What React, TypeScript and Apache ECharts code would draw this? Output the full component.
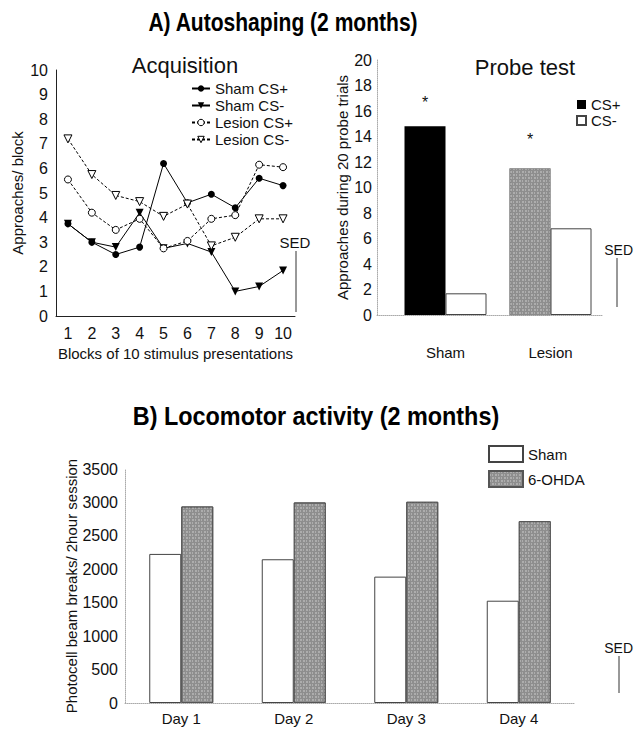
import React, { useEffect, useRef } from 'react';
import * as echarts from 'echarts';

// ---- Data ----
const blocks = ['1', '2', '3', '4', '5', '6', '7', '8', '9', '10'];
const shamCSPlus = [3.75, 3.0, 2.5, 2.8, 6.2, 4.6, 4.95, 4.4, 5.6, 5.3];
const shamCSMinus = [3.75, 3.0, 2.8, 4.2, 2.75, 2.95, 2.6, 1.0, 1.2, 1.85];
const lesionCSPlus = [5.55, 4.2, 3.5, 3.95, 2.75, 3.05, 3.95, 4.1, 6.15, 6.05];
const lesionCSMinus = [7.2, 5.75, 4.9, 4.65, 4.05, 4.55, 2.85, 3.2, 3.95, 3.95];

const probeGroups = ['Sham', 'Lesion'];
const probeCSPlus = [14.8, 11.5];
const probeCSMinus = [1.7, 6.8];

const days = ['Day 1', 'Day 2', 'Day 3', 'Day 4'];
const locoSham = [2230, 2150, 1890, 1530];
const locoOHDA = [2940, 3000, 3010, 2720];

const FONT = '"Liberation Sans", Arial, sans-serif';

export default function App() {
  const ref = useRef<HTMLDivElement>(null);
  useEffect(() => {
    const chart = echarts.init(ref.current!, null, { renderer: 'svg' });
    const gray = '#8e8e8e';
    const decal = {
      symbol: 'rect',
      symbolSize: 0.9,
      color: 'rgba(255,255,255,0.3)',
      dashArrayX: [[2, 1, 1, 2], [1, 2, 2, 1]],
      dashArrayY: [2, 1],
      rotation: 0,
    };
    const txt = { fontFamily: FONT, fontSize: 15, color: '#111' };
    const tick = { fontFamily: FONT, fontSize: 16, color: '#111' };
    const faintAxis = { show: true, lineStyle: { color: '#aaa', type: 'dotted', width: 1 } };

    const option: any = {
      animation: false,
      backgroundColor: '#fff',
      textStyle: { fontFamily: FONT },
      grid: [
        { left: 56, top: 70, width: 239, height: 246 },
        { left: 377, top: 60, width: 226, height: 255 },
        { left: 393, top: 60, width: 210, height: 255 },
        { left: 125, top: 469, width: 450, height: 234 },
      ],
      xAxis: [
        {
          gridIndex: 0, type: 'category', data: blocks, boundaryGap: true,
          axisLine: { show: true, lineStyle: { color: '#222', width: 1 } },
          axisTick: { show: false },
          axisLabel: { ...tick, margin: 9 },
          name: 'Blocks of 10 stimulus presentations', nameLocation: 'middle', nameGap: 30,
          nameTextStyle: { ...txt },
        },
        {
          gridIndex: 1, type: 'value', min: 0, max: 1,
          axisLine: faintAxis, axisTick: { show: false }, axisLabel: { show: false },
          splitLine: { show: false },
        },
        {
          gridIndex: 2, type: 'category', data: probeGroups,
          axisLine: { show: false }, axisTick: { show: false },
          axisLabel: { ...txt, margin: 30 },
        },
        {
          gridIndex: 3, type: 'category', data: days,
          axisLine: faintAxis, axisTick: { show: false },
          axisLabel: { ...txt, margin: 8 },
        },
      ],
      yAxis: [
        {
          gridIndex: 0, type: 'value', min: 0, max: 10, interval: 1,
          axisLine: { show: true, lineStyle: { color: '#222', width: 1 } },
          axisTick: { show: false }, splitLine: { show: false },
          axisLabel: { ...tick, margin: 8 },
          name: 'Approaches/ block', nameLocation: 'middle', nameGap: 31,
          nameTextStyle: { ...txt },
        },
        {
          gridIndex: 1, type: 'value', min: 0, max: 20, interval: 2,
          axisLine: faintAxis, axisTick: { show: false }, splitLine: { show: false },
          axisLabel: { ...tick, margin: 5 },
          name: 'Approaches during 20 probe trials', nameLocation: 'middle', nameGap: 26,
          nameTextStyle: { ...txt },
        },
        { gridIndex: 2, type: 'value', min: 0, max: 20, show: false },
        {
          gridIndex: 3, type: 'value', min: 0, max: 3500, interval: 500,
          axisLine: faintAxis, axisTick: { show: false }, splitLine: { show: false },
          axisLabel: { ...tick, margin: 7, formatter: (v: number) => String(v) },
          name: 'Photocell beam breaks/ 2hour session', nameLocation: 'middle', nameGap: 46,
          nameMoveOverlap: false,
          nameTextStyle: { ...txt },
        },
      ],
      legend: [
        {
          data: ['Sham CS+', 'Sham CS-', 'Lesion CS+', 'Lesion CS-'],
          orient: 'vertical', left: 186, top: 76, itemWidth: 18, itemHeight: 8, itemGap: 2,
          textStyle: { ...txt }, itemStyle: { borderWidth: 1 },
        },
        {
          data: ['CS+', 'CS-'], icon: 'rect',
          orient: 'vertical', left: 571, top: 92, itemWidth: 9, itemHeight: 9, itemGap: 1,
          textStyle: { ...txt },
        },
        {
          data: ['Sham', '6-OHDA'], icon: 'rect',
          orient: 'vertical', left: 483, top: 440, itemWidth: 34, itemHeight: 16, itemGap: 7,
          textStyle: { ...txt },
        },
      ],
      series: [
        {
          name: 'Sham CS+', type: 'line', xAxisIndex: 0, yAxisIndex: 0, data: shamCSPlus,
          symbol: 'circle', symbolSize: 7,
          itemStyle: { color: '#000' }, lineStyle: { color: '#000', width: 1 },
        },
        {
          name: 'Sham CS-', type: 'line', xAxisIndex: 0, yAxisIndex: 0, data: shamCSMinus,
          symbol: 'triangle', symbolRotate: 180, symbolSize: 8,
          itemStyle: { color: '#000' }, lineStyle: { color: '#000', width: 1 },
        },
        {
          name: 'Lesion CS+', type: 'line', xAxisIndex: 0, yAxisIndex: 0, data: lesionCSPlus,
          symbol: 'circle', symbolSize: 7,
          itemStyle: { color: '#fff', borderColor: '#000', borderWidth: 1 },
          lineStyle: { color: '#000', width: 1, type: [3, 2] },
        },
        {
          name: 'Lesion CS-', type: 'line', xAxisIndex: 0, yAxisIndex: 0, data: lesionCSMinus,
          symbol: 'triangle', symbolRotate: 180, symbolSize: 8,
          itemStyle: { color: '#fff', borderColor: '#000', borderWidth: 1 },
          lineStyle: { color: '#000', width: 1, type: [3, 2] },
        },
        {
          name: 'CS+', type: 'bar', xAxisIndex: 2, yAxisIndex: 2, barWidth: 41, barGap: 0,
          itemStyle: { color: '#000' },
          data: probeCSPlus.map((v, i) => ({
            value: v,
            itemStyle: i === 1 ? { color: gray, decal, borderColor: '#777', borderWidth: 0.5 } : { color: '#000' },
            label: {
              show: true, position: 'top', formatter: '*', distance: i === 0 ? 16 : 21,
              fontFamily: FONT, fontSize: 16, color: '#111',
            },
          })),
        },
        {
          name: 'CS-', type: 'bar', xAxisIndex: 2, yAxisIndex: 2, barWidth: 41, barGap: 0,
          itemStyle: { color: '#fff', borderColor: '#444', borderWidth: 1 },
          data: probeCSMinus,
        },
        {
          name: 'Sham', type: 'bar', xAxisIndex: 3, yAxisIndex: 3, barWidth: 32, barGap: 0,
          itemStyle: { color: '#fff', borderColor: '#444', borderWidth: 1 },
          data: locoSham,
        },
        {
          name: '6-OHDA', type: 'bar', xAxisIndex: 3, yAxisIndex: 3, barWidth: 32, barGap: 0,
          itemStyle: { color: gray, decal, borderColor: '#555', borderWidth: 1 },
          data: locoOHDA,
        },
      ],
      graphic: [
        {
          type: 'text', x: 283, y: 22, scaleX: 0.81, scaleY: 1,
          style: { text: 'A) Autoshaping (2 months)', font: `bold 26px ${FONT}`, fill: '#000', align: 'center', verticalAlign: 'middle' },
        },
        {
          type: 'text', x: 316, y: 416, scaleX: 0.9, scaleY: 1,
          style: { text: 'B) Locomotor activity (2 months)', font: `bold 26px ${FONT}`, fill: '#000', align: 'center', verticalAlign: 'middle' },
        },
        {
          type: 'text', x: 185, y: 65,
          style: { text: 'Acquisition', font: `22px ${FONT}`, fill: '#111', align: 'center', verticalAlign: 'middle' },
        },
        {
          type: 'text', x: 525, y: 67,
          style: { text: 'Probe test', font: `22px ${FONT}`, fill: '#111', align: 'center', verticalAlign: 'middle' },
        },
        // SED markers
        { type: 'text', x: 295, y: 242, style: { text: 'SED', font: `15px ${FONT}`, fill: '#111', align: 'center', verticalAlign: 'middle' } },
        { type: 'line', shape: { x1: 296, y1: 251, x2: 296, y2: 312 }, style: { stroke: '#333', lineWidth: 1 } },
        { type: 'text', x: 633, y: 250, style: { text: 'SED', font: `14px ${FONT}`, fill: '#111', align: 'right', verticalAlign: 'middle' } },
        { type: 'line', shape: { x1: 617, y1: 258, x2: 617, y2: 307 }, style: { stroke: '#333', lineWidth: 1 } },
        { type: 'text', x: 633, y: 648, style: { text: 'SED', font: `14px ${FONT}`, fill: '#111', align: 'right', verticalAlign: 'middle' } },
        { type: 'line', shape: { x1: 619, y1: 656, x2: 619, y2: 693 }, style: { stroke: '#333', lineWidth: 1 } },
      ],
    };
    chart.setOption(option);
    return () => chart.dispose();
  }, []);
  return <div ref={ref} style={{ position: 'absolute', left: 0, top: 0, width: 635, height: 729 }} />;
}
